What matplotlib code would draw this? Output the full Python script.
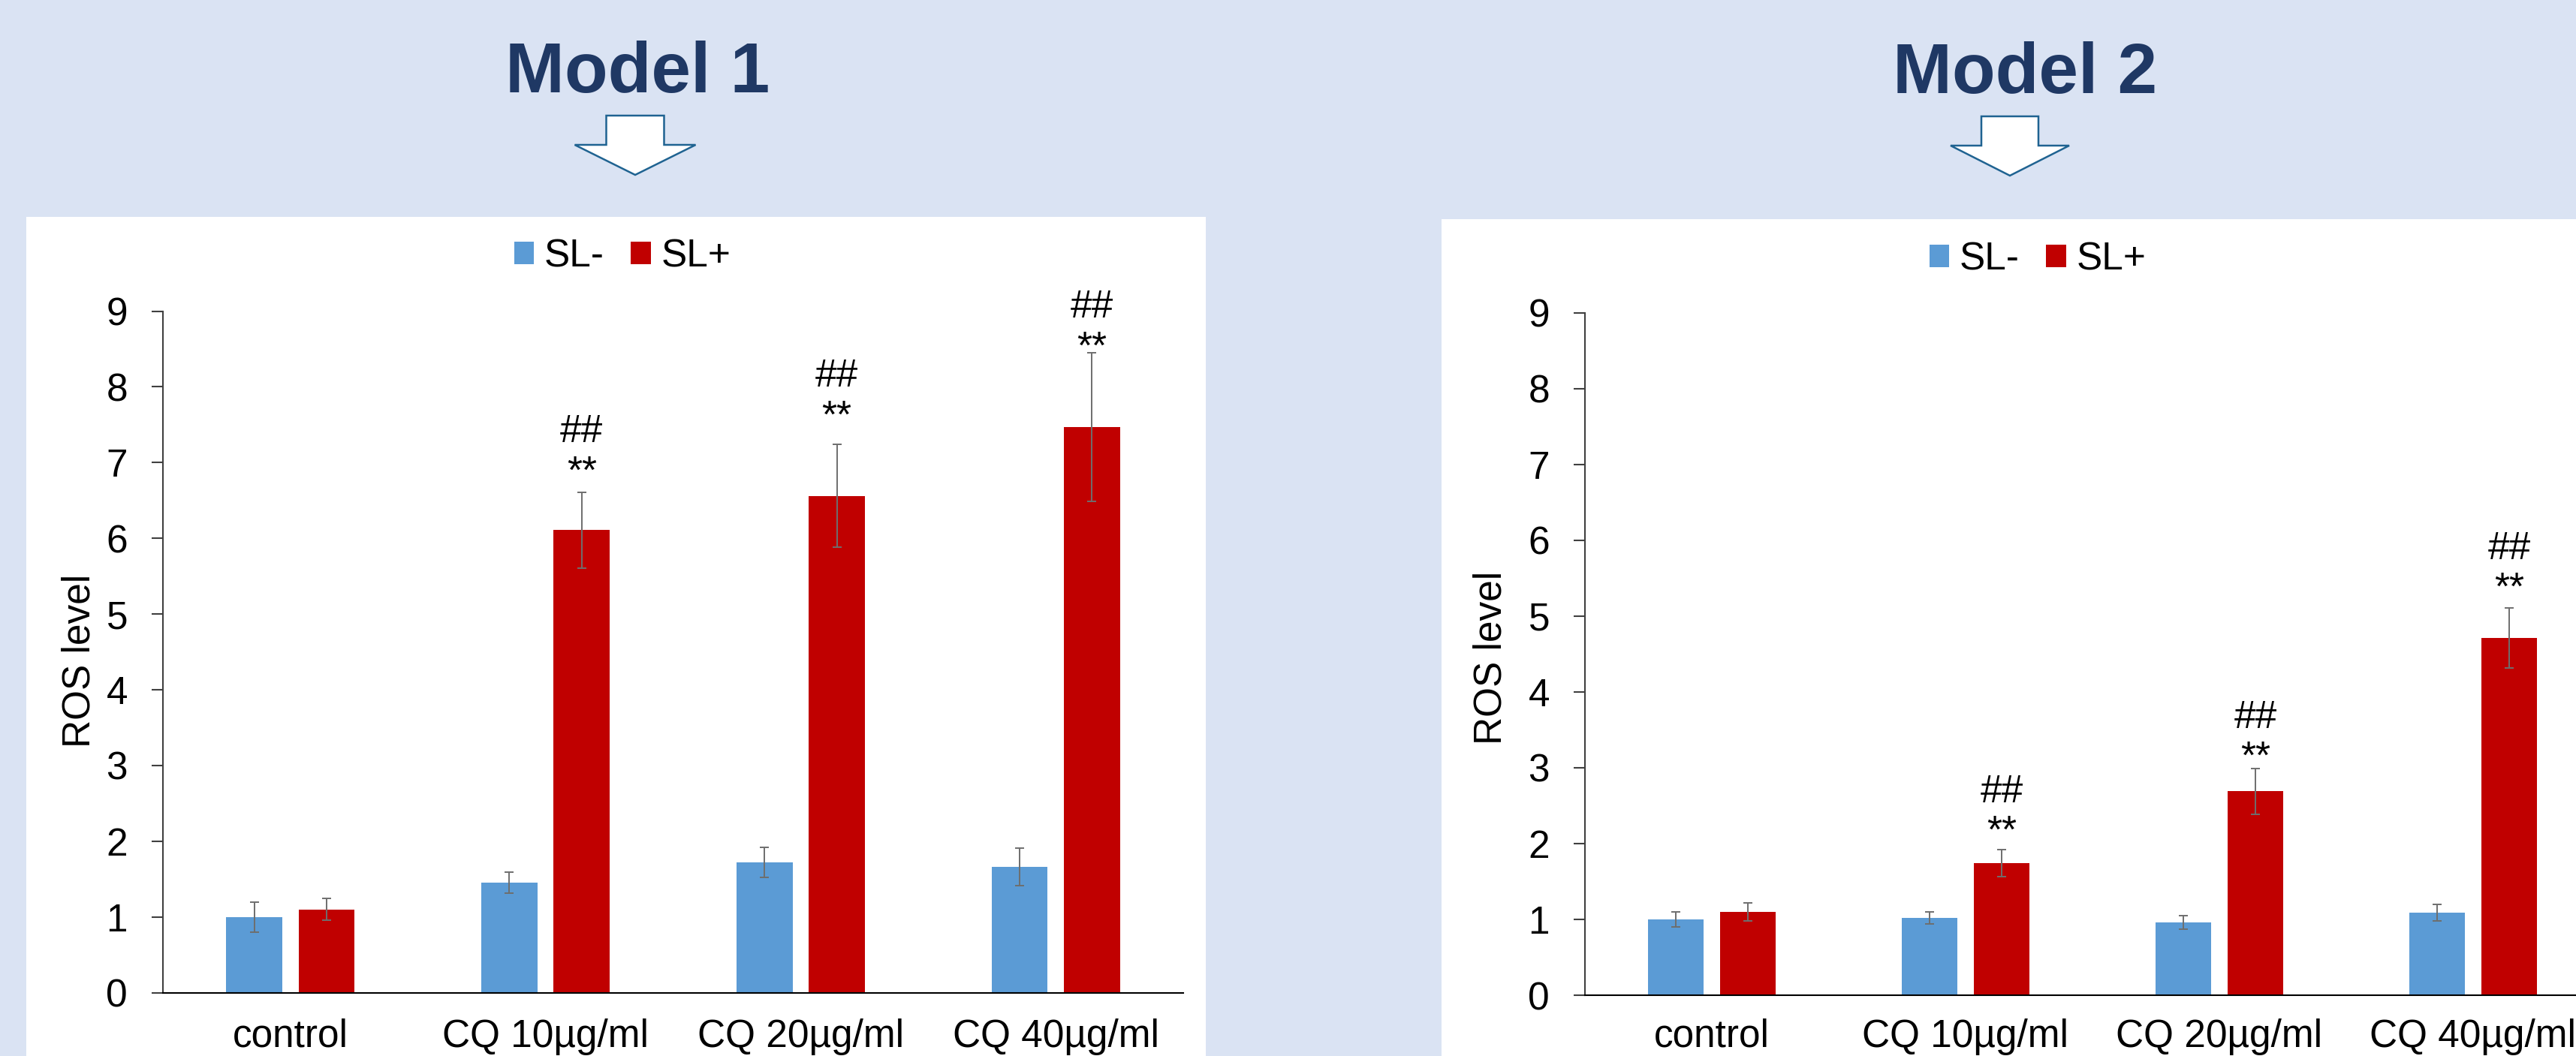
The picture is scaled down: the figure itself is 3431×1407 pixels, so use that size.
import matplotlib
matplotlib.use("Agg")
import numpy as np
from matplotlib import pyplot as plt
from matplotlib.patches import Rectangle, Polygon, Patch

plt.rcParams['font.family'] = ['Liberation Sans', 'DejaVu Sans']

W, H = 3431, 1407

groups = ['control', 'CQ 10µg/ml', 'CQ 20µg/ml', 'CQ 40µg/ml']
series = ['SL-', 'SL+']

# Model 1 ROS level (mean, error)
m1_minus = [1.00, 1.45, 1.72, 1.66]
m1_minus_err = [0.20, 0.14, 0.20, 0.25]
m1_plus = [1.10, 6.11, 6.56, 7.47]
m1_plus_err = [0.14, 0.50, 0.68, 0.98]

# Model 2 ROS level (mean, error)
m2_minus = [1.00, 1.02, 0.96, 1.09]
m2_minus_err = [0.10, 0.08, 0.09, 0.11]
m2_plus = [1.10, 1.74, 2.69, 4.71]
m2_plus_err = [0.12, 0.18, 0.30, 0.40]

# significance marks over the SL+ bars
star_marks = ['', '**', '**', '**']
hash_marks = ['', '##', '##', '##']
m1_star_y = [0, 6.73, 7.46, 8.37]
m1_hash_y = [0, 7.27, 8.00, 8.92]
m2_star_y = [0, 2.01, 2.99, 5.22]
m2_hash_y = [0, 2.54, 3.52, 5.75]

c_minus = '#5B9BD5'
c_plus = '#C00000'
navy = '#1F3864'


def fx(px):
    return px / W


def fy(py):
    return 1 - py / H


def draw_panel(ax, minus, minus_err, plus, plus_err, star_y, hash_y, xpad):
    x = np.arange(len(groups))
    ekw = dict(ecolor='#6E6E6E', elinewidth=1.4, capsize=4.3, capthick=1.4)
    ax.bar(x - 0.142, minus, 0.22, color=c_minus, yerr=minus_err, error_kw=ekw)
    ax.bar(x + 0.142, plus, 0.22, color=c_plus, yerr=plus_err, error_kw=ekw)
    for i in range(len(groups)):
        if star_marks[i]:
            ax.text(x[i] + 0.142, star_y[i], star_marks[i], ha='center', va='baseline', fontsize=37)
            ax.text(x[i] + 0.142, hash_y[i], hash_marks[i], ha='center', va='baseline', fontsize=37)
    ax.set_xlim(-0.5, 3.5)
    ax.set_ylim(0, 9)
    ax.set_yticks(range(10))
    ax.set_xticks(x)
    ax.set_xticklabels(groups)
    ax.spines['top'].set_visible(False)
    ax.spines['right'].set_visible(False)
    ax.spines['left'].set_color('#404040')
    ax.spines['left'].set_linewidth(1.5)
    ax.spines['bottom'].set_color('black')
    ax.spines['bottom'].set_linewidth(1.5)
    ax.tick_params(axis='y', length=10.8, width=1.5, color='#404040', pad=23, labelsize=37)
    ax.tick_params(axis='x', length=0, pad=xpad, labelsize=37)
    ax.set_ylabel('ROS level', fontsize=37)


def down_arrow(fig, cx, top, neck, tip, shaft, head):
    pts = [(cx - shaft, top), (cx + shaft, top), (cx + shaft, neck), (cx + head, neck),
           (cx, tip), (cx - head, neck), (cx - shaft, neck)]
    poly = Polygon([(fx(a), fy(b)) for a, b in pts], closed=True, facecolor='white',
                   edgecolor='#1F6391', linewidth=1.8, transform=fig.transFigure)
    fig.add_artist(poly)


fig = plt.figure(figsize=(W / 100, H / 100), dpi=100, facecolor='#DAE3F3')

# white chart areas
fig.add_artist(Rectangle((fx(35), 0), fx(1606 - 35), fy(289), facecolor='white',
                         edgecolor='none', transform=fig.transFigure, zorder=-1))
fig.add_artist(Rectangle((fx(1920), 0), fx(1571), fy(292), facecolor='white',
                         edgecolor='none', transform=fig.transFigure, zorder=-1))

ax1 = fig.add_axes([fx(217), fy(1322.6), fx(1576 - 217), (1322.6 - 414.5) / H])
draw_panel(ax1, m1_minus, m1_minus_err, m1_plus, m1_plus_err, m1_star_y, m1_hash_y, 24.5)
ax1.yaxis.set_label_coords(-0.0633, 0.487)

ax2 = fig.add_axes([fx(2111), fy(1326), fx(1352), (1326 - 416.6) / H])
draw_panel(ax2, m2_minus, m2_minus_err, m2_plus, m2_plus_err, m2_star_y, m2_hash_y, 22)
ax2.yaxis.set_label_coords(-0.0747, 0.494)

handles = [Patch(facecolor=c_minus), Patch(facecolor=c_plus)]
for cx, cy in [(829, 342), (2714, 346)]:
    fig.legend(handles, series, loc='center', bbox_to_anchor=(fx(cx), fy(cy)), ncol=2,
               frameon=False, fontsize=37, handlelength=0.52, handleheight=0.52,
               handletextpad=0.27, columnspacing=0.68, borderpad=0)

fig.text(fx(849), fy(123), 'Model 1', ha='center', va='baseline', fontsize=68,
         fontweight='bold', color=navy)
fig.text(fx(2697), fy(124), 'Model 2', ha='center', va='baseline', fontsize=68,
         fontweight='bold', color=navy)
down_arrow(fig, 846, 154, 193, 233, 38.5, 80.5)
down_arrow(fig, 2677, 155, 194, 234, 38, 79)

fig.savefig('out.png', dpi=100)
